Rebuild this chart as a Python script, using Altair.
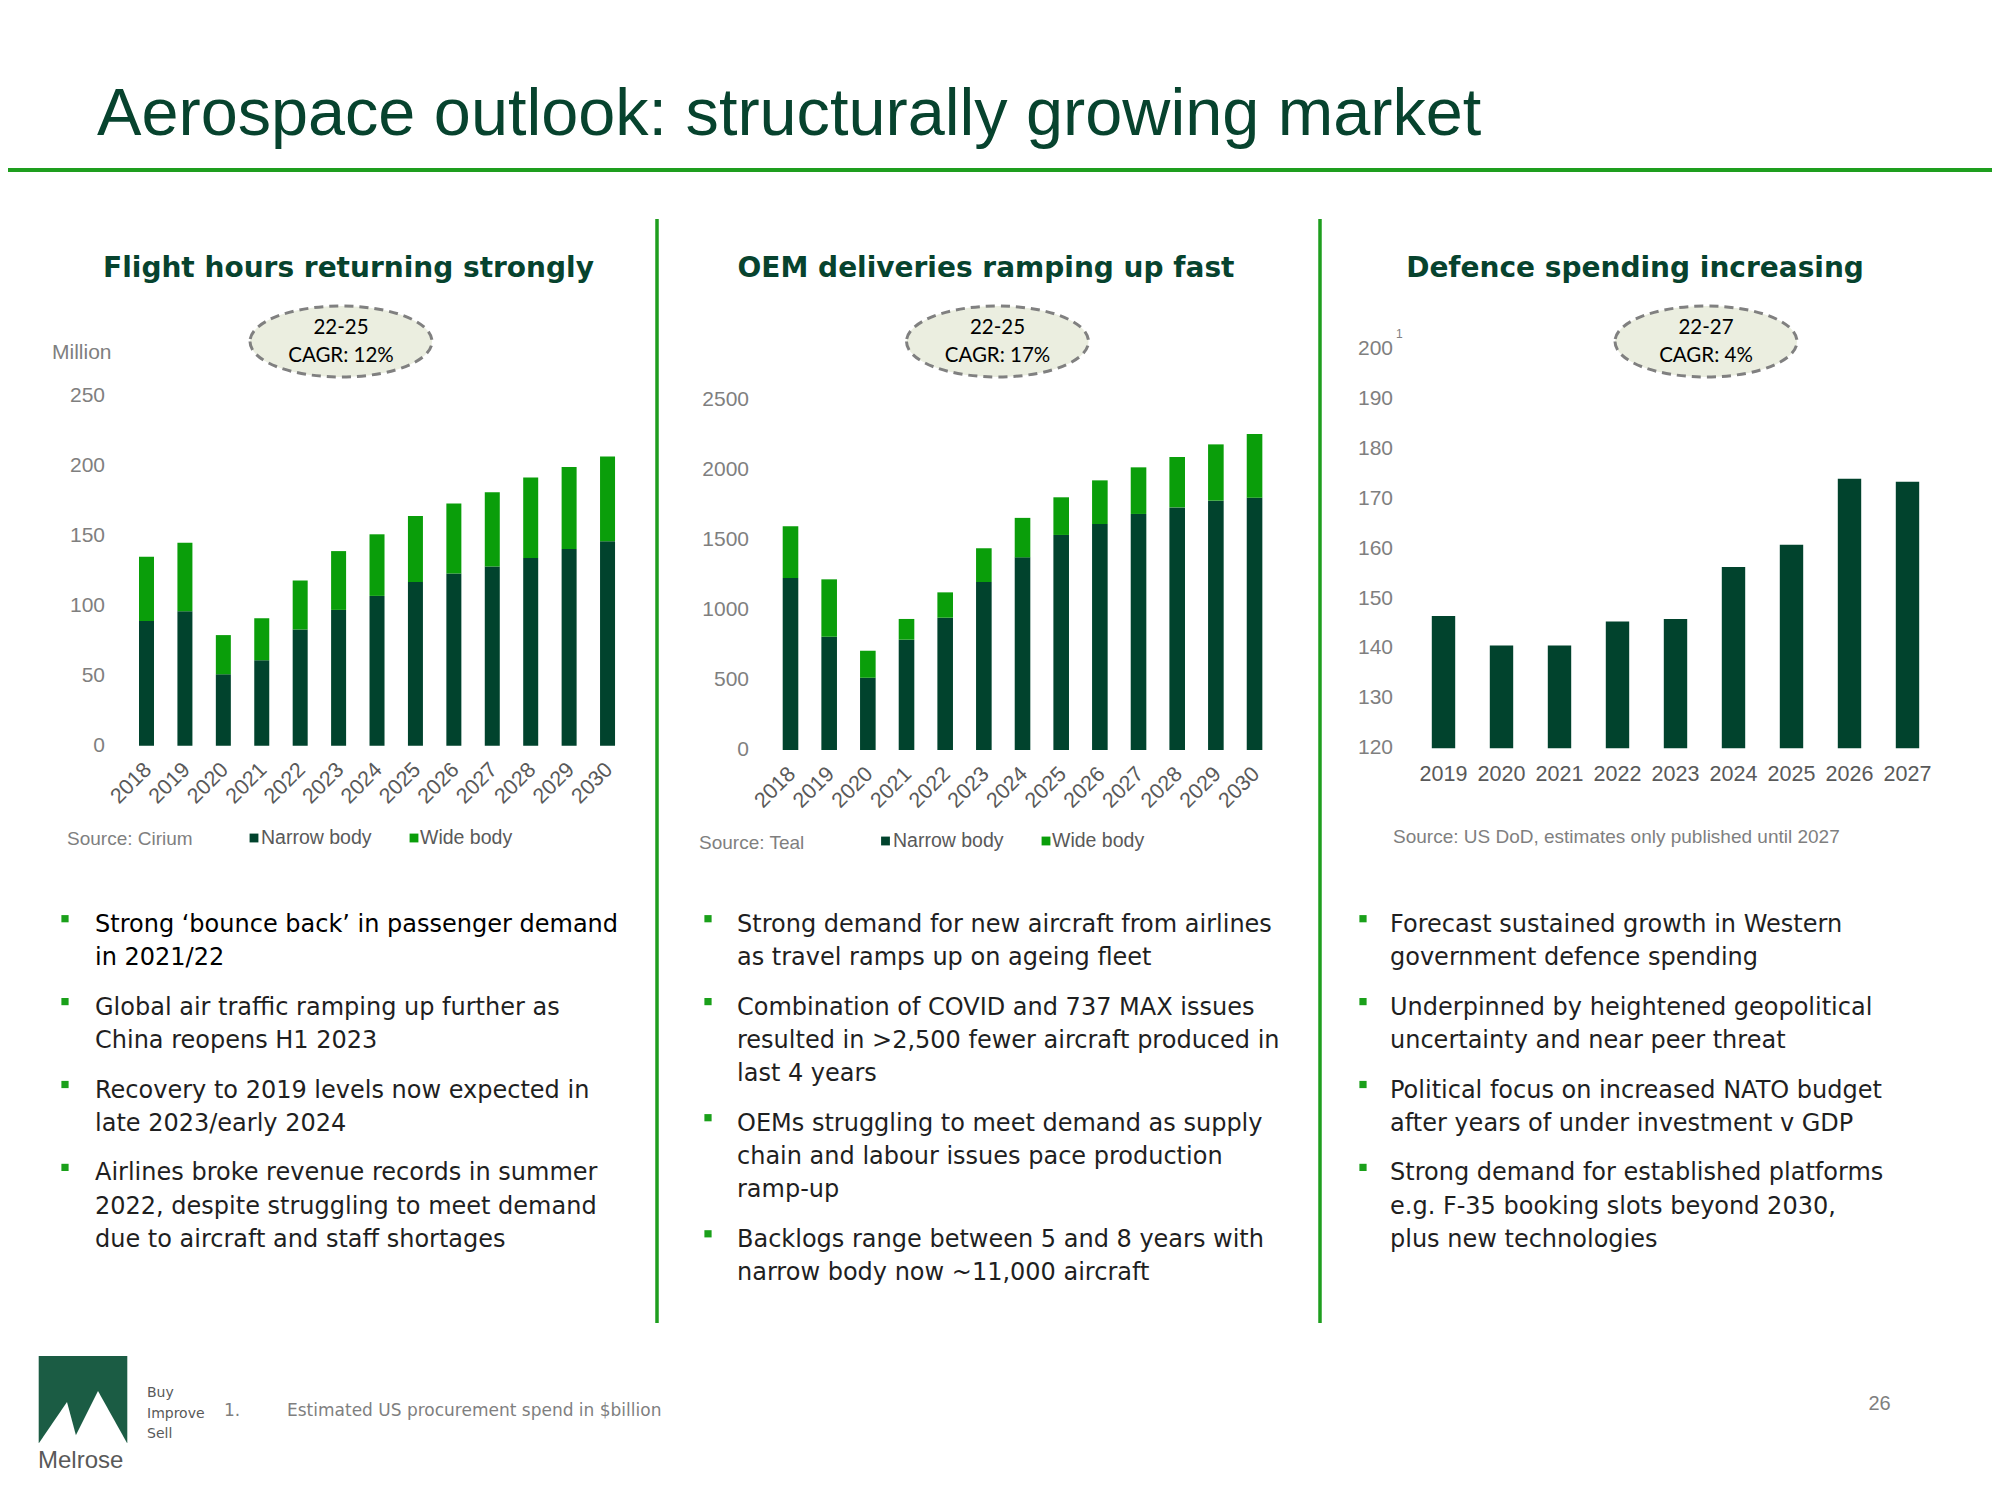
import altair as alt
import pandas as pd

# ---------------- data ----------------
title_text = "Aerospace outlook: structurally growing market"
panel_titles = ["Flight hours returning strongly", "OEM deliveries ramping up fast",
                "Defence spending increasing"]
cagr_periods = ["22-25", "22-25", "22-27"]
cagr_values = ["CAGR: 12%", "CAGR: 17%", "CAGR: 4%"]
series_names = ["Narrow body", "Wide body"]

fh_years = ["2018", "2019", "2020", "2021", "2022", "2023", "2024",
            "2025", "2026", "2027", "2028", "2029", "2030"]
fh_narrow = [89, 96, 51, 61, 83, 97, 107, 117, 123, 128, 134, 140.5, 146]
fh_total = [135, 145, 79, 91, 118, 139, 151, 164, 173, 181, 191.5, 199, 206.5]
fh_ticks = [0, 50, 100, 150, 200, 250]

oem_years = fh_years
oem_narrow = [1229, 809, 516, 788, 945, 1200, 1376, 1536, 1614, 1686, 1733, 1781, 1802]
oem_total = [1598, 1219, 709, 936, 1126, 1441, 1658, 1805, 1926, 2019, 2093, 2183, 2257]
oem_ticks = [0, 500, 1000, 1500, 2000, 2500]

def_years = ["2019", "2020", "2021", "2022", "2023", "2024", "2025", "2026", "2027"]
def_spend = [146.5, 140.6, 140.6, 145.4, 145.9, 156.3, 160.8, 174.0, 173.4]
def_ticks = [120, 130, 140, 150, 160, 170, 180, 190, 200]

unit_label = "Million"
footnote_mark = "1"
sources = ["Source: Cirium", "Source: Teal",
           "Source: US DoD, estimates only published until 2027"]

bullets = [
    [["Strong \u2018bounce back\u2019 in passenger demand", "in 2021/22"],
     ["Global air traffic ramping up further as", "China reopens H1 2023"],
     ["Recovery to 2019 levels now expected in", "late 2023/early 2024"],
     ["Airlines broke revenue records in summer", "2022, despite struggling to meet demand",
      "due to aircraft and staff shortages"]],
    [["Strong demand for new aircraft from airlines", "as travel ramps up on ageing fleet"],
     ["Combination of COVID and 737 MAX issues", "resulted in >2,500 fewer aircraft produced in",
      "last 4 years"],
     ["OEMs struggling to meet demand as supply", "chain and labour issues pace production",
      "ramp-up"],
     ["Backlogs range between 5 and 8 years with", "narrow body now ~11,000 aircraft"]],
    [["Forecast sustained growth in Western", "government defence spending"],
     ["Underpinned by heightened geopolitical", "uncertainty and near peer threat"],
     ["Political focus on increased NATO budget", "after years of under investment v GDP"],
     ["Strong demand for established platforms", "e.g. F-35 booking slots beyond 2030,",
      "plus new technologies"]],
]
logo_word = "Melrose"
logo_tag = ["Buy", "Improve", "Sell"]
footnote_num = "1."
footnote_text = "Estimated US procurement spend in $billion"
page_number = "26"

# ---------------- style ----------------
DARK = "#01432D"
GREEN = "#0A9E0A"
LINE_GREEN = "#1E9E1E"
TITLE_GREEN = "#07432E"
GRAY = "#7F7F7F"
DGRAY = "#595959"
ARIAL = "Liberation Sans"
WIDE = "DejaVu Sans"
CAL = "Lato"
M = 8  # page margin


def P(v):
    return v - M


one = pd.DataFrame({"k": [0]})
layers = []


def txt(s, x, y, size, color, font=ARIAL, align="left", baseline="alphabetic",
        weight="normal", line_height=None):
    kw = dict(align=align, baseline=baseline, font=font, fontSize=size,
              color=color, fontWeight=weight)
    if line_height:
        kw["lineHeight"] = line_height
    return alt.Chart(one).mark_text(**kw).encode(
        x=alt.value(P(x)), y=alt.value(P(y)), text=alt.value(s))


def rule(x1, y1, x2, y2, color, width):
    return alt.Chart(one).mark_rule(color=color, strokeWidth=width).encode(
        x=alt.value(P(x1)), x2=alt.value(P(x2)), y=alt.value(P(y1)), y2=alt.value(P(y2)))


def symbol(shape, x, y, size, fill, stroke=None, sw=0, dash=None):
    kw = dict(shape=shape, size=size, fill=fill, fillOpacity=1, opacity=1)
    if stroke:
        kw.update(stroke=stroke, strokeWidth=sw, strokeOpacity=1)
    else:
        kw.update(strokeWidth=0)
    if dash:
        kw["strokeDash"] = dash
    return alt.Chart(one).mark_point(**kw).encode(x=alt.value(P(x)), y=alt.value(P(y)))


def stacked_panel(years, narrow, total, ticks, c0, step, bar_w, y_zero, y_top, label_right):
    n = len(years)
    wide = [t - a for t, a in zip(total, narrow)]
    df = pd.DataFrame({"year": years * 2,
                       "series": [series_names[0]] * n + [series_names[1]] * n,
                       "value": list(narrow) + wide,
                       "ord": [0] * n + [1] * n})
    pi = 1 - bar_w / step
    xs = alt.Scale(type="band", domain=years,
                   range=[P(c0 - step / 2), P(c0 + (n - 0.5) * step)],
                   paddingInner=pi, paddingOuter=pi / 2)
    ys = alt.Scale(domain=[ticks[0], ticks[-1]], range=[P(y_zero), P(y_top)],
                   nice=False, zero=False)
    bars = alt.Chart(df).mark_bar(strokeWidth=0).encode(
        x=alt.X("year:N", scale=xs, axis=None),
        y=alt.Y("value:Q", stack="zero", scale=ys, axis=None),
        color=alt.Color("series:N", scale=alt.Scale(domain=series_names, range=[DARK, GREEN]),
                        legend=None),
        order=alt.Order("ord:Q"))
    ylab = alt.Chart(pd.DataFrame({"tick": ticks})).mark_text(
        align="right", baseline="middle", font=ARIAL, fontSize=21, color=GRAY).encode(
        y=alt.Y("tick:Q", scale=ys, axis=None), x=alt.value(P(label_right)),
        text=alt.Text("tick:Q", format="d"))
    xpt = alt.Scale(type="point", domain=years,
                    range=[P(c0 + 2), P(c0 + (n - 1) * step + 2)], padding=0)
    xlab = alt.Chart(pd.DataFrame({"year": years})).mark_text(
        angle=315, align="right", baseline="middle", font=ARIAL, fontSize=21.5,
        color=DGRAY).encode(
        x=alt.X("year:N", scale=xpt, axis=None), y=alt.value(P(y_zero + 21)),
        text="year:N")
    return [bars, ylab, xlab]


# ---------------- header ----------------
layers.append(txt(title_text, 97, 135, 66.6, TITLE_GREEN))
layers.append(rule(0, 170, 2000, 170, LINE_GREEN, 4))
layers.append(rule(657, 219, 657, 1323, LINE_GREEN, 3.5))
layers.append(rule(1320, 219, 1320, 1323, LINE_GREEN, 3.5))

for t, cx in zip(panel_titles, [348.5, 986, 1635]):
    layers.append(txt(t, cx, 277, 28, TITLE_GREEN, font=WIDE, align="center", weight="bold"))

ELLIPSE = "M-1,0A1,0.39,0,1,0,1,0A1,0.39,0,1,0,-1,0Z"
for per, val, cx in zip(cagr_periods, cagr_values, [341, 997.5, 1706]):
    layers.append(symbol(ELLIPSE, cx, 341.5, 182 ** 2, "#EBEEE0", stroke="#808080", sw=3,
                         dash=[9, 6]))
    layers.append(txt(per, cx, 328, 20.5, "#000000", font=CAL, align="center",
                      baseline="middle"))
    layers.append(txt(val, cx, 356, 20.5, "#000000", font=CAL, align="center",
                      baseline="middle"))

# ---------------- chart 1 ----------------
layers += stacked_panel(fh_years, fh_narrow, fh_total, fh_ticks, 146.5, 38.42, 15,
                        745.7, 395.7, 105)
layers.append(txt(unit_label, 52, 353, 21, GRAY, baseline="middle"))

# ---------------- chart 2 ----------------
layers += stacked_panel(oem_years, oem_narrow, oem_total, oem_ticks, 790.5, 38.67, 15.6,
                        750, 400, 749)

# ---------------- chart 3 ----------------
n3 = len(def_years)
c3, s3, w3 = 1443.5, 58.0, 23.4
pi3 = 1 - w3 / s3
xs3 = alt.Scale(type="band", domain=def_years,
                range=[P(c3 - s3 / 2), P(c3 + (n3 - 0.5) * s3)],
                paddingInner=pi3, paddingOuter=pi3 / 2)
ys3 = alt.Scale(domain=[def_ticks[0], def_ticks[-1]], range=[P(748.3), P(349)],
                nice=False, zero=False)
df3 = pd.DataFrame({"year": def_years, "value": def_spend})
layers.append(alt.Chart(df3).mark_bar(color=DARK, strokeWidth=0).encode(
    x=alt.X("year:N", scale=xs3, axis=None),
    y=alt.Y("value:Q", scale=ys3, axis=None),
    y2=alt.datum(def_ticks[0])))
layers.append(alt.Chart(pd.DataFrame({"tick": def_ticks})).mark_text(
    align="right", baseline="middle", font=ARIAL, fontSize=21, color=GRAY).encode(
    y=alt.Y("tick:Q", scale=ys3, axis=None), x=alt.value(P(1393)),
    text=alt.Text("tick:Q", format="d")))
xpt3 = alt.Scale(type="point", domain=def_years, range=[P(c3), P(c3 + (n3 - 1) * s3)],
                 padding=0)
layers.append(alt.Chart(pd.DataFrame({"year": def_years})).mark_text(
    align="center", baseline="middle", font=ARIAL, fontSize=21.5, color=DGRAY).encode(
    x=alt.X("year:N", scale=xpt3, axis=None), y=alt.value(P(775)), text="year:N"))
layers.append(txt(footnote_mark, 1396, 334, 12, GRAY, baseline="middle"))

# ---------------- sources & legends ----------------
layers.append(txt(sources[0], 67, 838.5, 19, GRAY, baseline="middle"))
layers.append(txt(sources[1], 699, 843, 19, GRAY, baseline="middle"))
layers.append(txt(sources[2], 1393, 837, 19, GRAY, baseline="middle"))
for (sq_x, tx_x, ly) in [((254, 414), (261, 420), 838), ((885.5, 1046), (893, 1052), 841)]:
    for i, name in enumerate(series_names):
        layers.append(symbol("square", sq_x[i], ly, 78, [DARK, GREEN][i]))
        layers.append(txt(name, tx_x[i], ly, 19.5, DGRAY, baseline="middle"))

# ---------------- bullets ----------------
LH = 33.2
GAP = 16.5
for p, (bx, tx) in enumerate([(65, 95), (708, 737), (1363, 1390)]):
    y = 931.7
    for j, lines in enumerate(bullets[p]):
        color = "#000000" if (p == 0 and j == 0) else "#1F1F1F"
        layers.append(symbol("square", bx, y - 13, 52, "#1AA01A"))
        layers.append(txt(lines, tx, y, 24, color, font=WIDE, line_height=LH))
        y += LH * len(lines) + GAP

# ---------------- footer ----------------
layers.append(alt.Chart(one).mark_rect(color="#1B5C44").encode(
    x=alt.value(P(38.7)), x2=alt.value(P(127.3)), y=alt.value(P(1356)), y2=alt.value(P(1443))))
layers.append(symbol("M0.333,-0.976L0.857,0.976L-1,0.976Z", 60, 1422.5, 42 ** 2, "#FFFFFF"))
layers.append(symbol("M-0.055,-0.945L1,0.945L-1,0.945Z", 99.5, 1417, 55 ** 2, "#FFFFFF"))
layers.append(txt(logo_word, 38, 1461, 24, DGRAY, baseline="middle"))
layers.append(txt(logo_tag, 147, 1397, 14, DGRAY, font=WIDE, line_height=20.5))
layers.append(txt(footnote_num, 224, 1411, 17, GRAY, font=WIDE, baseline="middle"))
layers.append(txt(footnote_text, 287, 1411, 17, GRAY, font=WIDE, baseline="middle"))
layers.append(txt(page_number, 1879.5, 1404, 20, GRAY, align="center", baseline="middle"))

chart = alt.layer(*layers).resolve_scale(
    x="independent", y="independent", color="independent"
).properties(
    width=1984, height=1484, padding=0, background="#FFFFFF",
    autosize=alt.AutoSizeParams(type="none")
).configure_view(stroke=None)

chart.save("out.html", embed_options={"renderer": "svg", "actions": False})
